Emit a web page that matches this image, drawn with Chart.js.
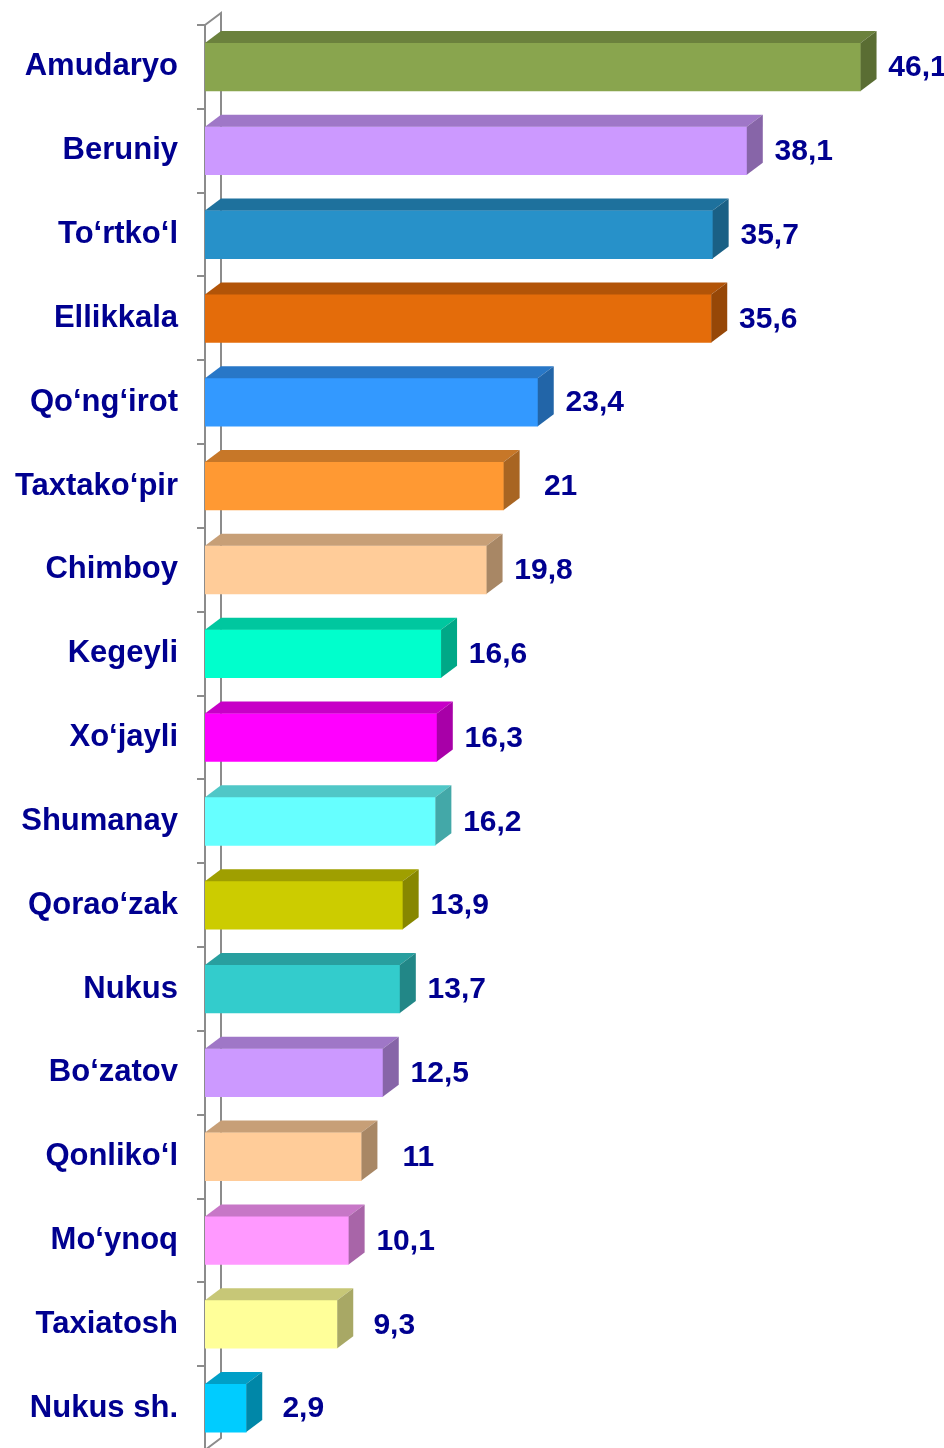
<!DOCTYPE html>
<html>
<head>
<meta charset="utf-8">
<script src="https://cdn.jsdelivr.net/npm/chart.js@4/dist/chart.umd.min.js"></script>
<style>
  html, body { margin: 0; padding: 0; background: #ffffff; overflow: hidden; }
  #wrap { position: relative; width: 944px; height: 1452px; }
</style>
</head>
<body>
<div id="wrap"><canvas id="chart"></canvas></div>
<script>
// Districts and their values
const districts = [
  'Amudaryo', 'Beruniy', 'To‘rtko‘l', 'Ellikkala', 'Qo‘ng‘irot', 'Taxtako‘pir',
  'Chimboy', 'Kegeyli', 'Xo‘jayli', 'Shumanay', 'Qorao‘zak', 'Nukus',
  'Bo‘zatov', 'Qonliko‘l', 'Mo‘ynoq', 'Taxiatosh', 'Nukus sh.'
];
const values = [46.1, 38.1, 35.7, 35.6, 23.4, 21, 19.8, 16.6, 16.3, 16.2, 13.9, 13.7, 12.5, 11, 10.1, 9.3, 2.9];
const valueLabels = ['46,1', '38,1', '35,7', '35,6', '23,4', '21', '19,8', '16,6', '16,3', '16,2', '13,9', '13,7', '12,5', '11', '10,1', '9,3', '2,9'];

// Front face colour of each bar
const barColors = [
  '#89A54E', '#CC99FF', '#2791C9', '#E46C0A', '#3399FF', '#FF9933',
  '#FFCC99', '#00FFCC', '#FF00FF', '#66FFFF', '#CCCC00', '#33CCCC',
  '#CC99FF', '#FFCC99', '#FF99FF', '#FFFF99', '#00CCFF'
];

const TEXT = '#000090';
const AXIS = '#8c8c8c';
const DEPTH_X = 16;
const DEPTH_Y = 12;

function shade(hex, f) {
  const n = parseInt(hex.slice(1), 16);
  const r = Math.round(((n >> 16) & 255) * f);
  const g = Math.round(((n >> 8) & 255) * f);
  const b = Math.round((n & 255) * f);
  return `rgb(${r},${g},${b})`;
}

// Back wall edge of the 3D category axis
const wallPlugin = {
  id: 'wall',
  beforeDatasetsDraw(chart) {
    const { ctx, chartArea: a } = chart;
    ctx.save();
    ctx.strokeStyle = AXIS;
    ctx.lineWidth = 2;
    ctx.beginPath();
    ctx.moveTo(a.left, a.top);
    ctx.lineTo(a.left + DEPTH_X, a.top - DEPTH_Y);
    ctx.lineTo(a.left + DEPTH_X, a.bottom - DEPTH_Y);
    ctx.lineTo(a.left, a.bottom);
    ctx.stroke();
    ctx.restore();
  }
};

// Top and side faces of each bar, plus the value labels
const boxPlugin = {
  id: 'box3d',
  afterDatasetsDraw(chart) {
    const { ctx } = chart;
    const meta = chart.getDatasetMeta(0);
    ctx.save();
    meta.data.forEach((bar, i) => {
      const { x, y, base, height } = bar.getProps(['x', 'y', 'base', 'height'], true);
      const top = y - height / 2;
      const bottom = y + height / 2;
      const c = barColors[i];

      ctx.fillStyle = shade(c, 0.78);
      ctx.beginPath();
      ctx.moveTo(base, top);
      ctx.lineTo(x, top);
      ctx.lineTo(x + DEPTH_X, top - DEPTH_Y);
      ctx.lineTo(base + DEPTH_X, top - DEPTH_Y);
      ctx.closePath();
      ctx.fill();

      ctx.fillStyle = shade(c, 0.66);
      ctx.beginPath();
      ctx.moveTo(x, top);
      ctx.lineTo(x + DEPTH_X, top - DEPTH_Y);
      ctx.lineTo(x + DEPTH_X, bottom - DEPTH_Y);
      ctx.lineTo(x, bottom);
      ctx.closePath();
      ctx.fill();

      ctx.fillStyle = TEXT;
      ctx.font = 'bold 30px "Liberation Sans", Arial, sans-serif';
      ctx.textAlign = 'center';
      ctx.textBaseline = 'middle';
      ctx.fillText(valueLabels[i], x + 57, y + 1);
    });
    ctx.restore();
  }
};

new Chart(document.getElementById('chart'), {
  type: 'bar',
  data: {
    labels: districts,
    datasets: [{
      data: values,
      backgroundColor: barColors,
      borderWidth: 0,
      barThickness: 48
    }]
  },
  options: {
    indexAxis: 'y',
    responsive: true,
    maintainAspectRatio: false,
    animation: false,
    layout: { padding: { top: 25, right: 28, bottom: 2, left: 0 } },
    plugins: {
      legend: { display: false },
      tooltip: { enabled: false }
    },
    scales: {
      x: {
        display: false,
        min: 0,
        max: 50
      },
      y: {
        afterFit(scale) {
          scale.width = 205;
          scale.paddingTop = 0;
          scale.paddingBottom = 0;
        },
        grid: {
          display: true,
          drawOnChartArea: false,
          drawTicks: true,
          tickLength: 8,
          offset: true,
          color: AXIS,
          lineWidth: 2
        },
        border: { display: true, color: AXIS, width: 2 },
        ticks: {
          color: TEXT,
          padding: 19,
          font: { family: '"Liberation Sans", Arial, sans-serif', size: 31, weight: 'bold' }
        }
      }
    }
  },
  plugins: [wallPlugin, boxPlugin]
});
</script>
</body>
</html>
